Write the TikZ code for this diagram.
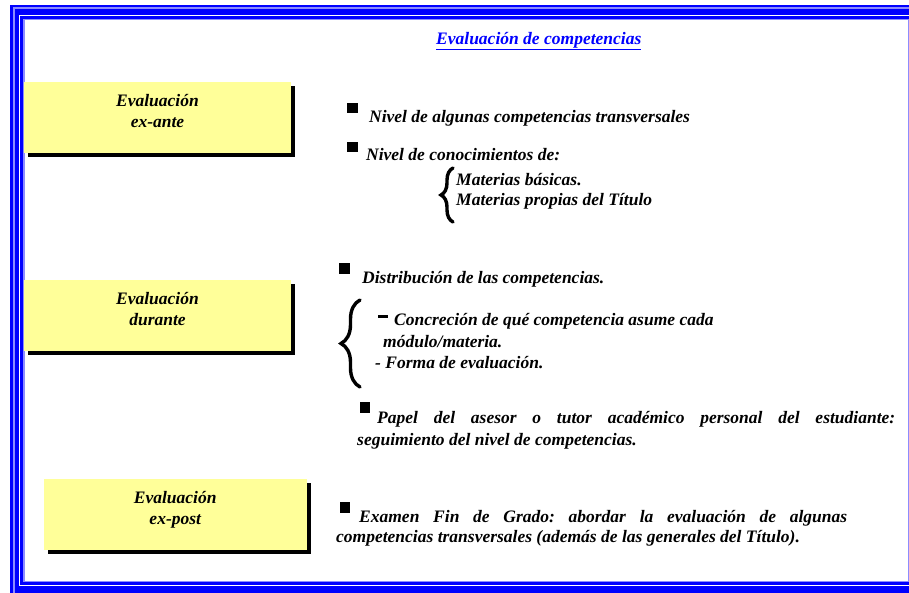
\documentclass[tikz,border=0pt]{standalone}
\usepackage{fontspec}
\setmainfont{Liberation Serif}
\usetikzlibrary{shadows,decorations.pathreplacing}
\definecolor{frameblue} {HTML}{0000FF}
\definecolor{framelight}{HTML}{8C8CFF}
\definecolor{evyellow}  {HTML}{FFFF99}
\newcommand{\evfont}{\fontsize{17.5}{21}\selectfont\bfseries\itshape\frenchspacing}
\tikzset{
  evbox/.style ={fill=evyellow, minimum width=267pt, minimum height=71pt,
                 inner sep=0pt,
                 drop shadow={shadow xshift=4pt, shadow yshift=-4pt,
                              fill=black, opacity=1}},
  evtext/.style={font=\evfont, align=center, inner sep=0pt},
  txt/.style   ={font=\evfont, anchor=base west, inner sep=0pt},
  bul/.style   ={fill=black, minimum size=10.5pt, inner sep=0pt},
  brc/.style   ={decorate, line width=3.4pt, line cap=round}
}

\begin{document}
\begin{tikzpicture}[x=1pt, y=-1pt]
\useasboundingbox (0,0) rectangle (909,592);
% frame
\fill[frameblue] (10,5) rectangle (1000,700);
\draw[framelight, line width=1.7pt] (14.1,8.2) rectangle (1000,700);
\fill[white] (19.3,14.8) rectangle (990,586);
\fill[frameblue] (20.3,15.8) rectangle (989,585.4);
\fill[framelight] (23.2,18.6) rectangle (909.5,582);
\fill[white] (25,20) rectangle (907.8,580.8);

% title
\node[txt, text=frameblue] (title) at (436,44)
  {\underline{Evaluación de competencias}};

% boxes on the left
\node[evbox] (exante) at (157.5,117.5) {};
\node[evtext] (exantetx) at ([yshift=6pt]exante.center) {Evaluación\\ex-ante};
\node[evbox] (durante) at (157.5,315.5) {};
\node[evtext] (durantetx) at ([yshift=6pt]durante.center) {Evaluación\\durante};
\node[evbox, minimum width=263.5pt] (expost) at (175.25,514.5) {};
\node[evtext] (expostx) at ([yshift=5pt]expost.center) {Evaluación\\ex-post};

% ex-ante
\node[bul] (b1) at (352.3,108) {};
\node[txt] (t1) at (369,122) {Nivel de algunas competencias transversales};
\node[bul] (b2) at (352.5,147) {};
\node[txt] (t2) at (366,160) {Nivel de conocimientos de:};
\node[txt] (t3) at (456,185) {Materias básicas.};
\node[txt] (t4) at (456,205) {Materias propias del Título};
\draw[brc, decoration={brace, amplitude=12pt}] (453,222) -- (453,168);

% durante
\node[bul] (b3) at (344.5,268.5) {};
\node[txt] (t5) at (362,283) {Distribución de las competencias.};
\draw[brc, decoration={brace, amplitude=19pt}] (360,387) -- (360,300);
\node[fill=black, minimum width=10pt, minimum height=3pt, inner sep=0pt]
  (dash1) at (383,316) {};
\node[txt] (t6) at (394,325) {Concreción de qué competencia asume cada};
\node[txt] (t7) at (383,347) {módulo/materia.};
\node[txt] (t8) at (375,368) {- Forma de evaluación.};
\node[bul] (b4) at (365,407.5) {};
\node[txt] (t9) at (377,423)
  {\makebox[518pt][s]{Papel del asesor o tutor académico personal del estudiante:}};
\node[txt] (t10) at (357,445) {seguimiento del nivel de competencias.};

% ex-post
\node[bul] (b5) at (345,507.5) {};
\node[txt] (t11) at (359,522)
  {\makebox[488pt][s]{Examen Fin de Grado: abordar la evaluación de algunas}};
\node[txt] (t12) at (336,542)
  {competencias transversales (además de las generales del Título).};
\end{tikzpicture}
\end{document}
